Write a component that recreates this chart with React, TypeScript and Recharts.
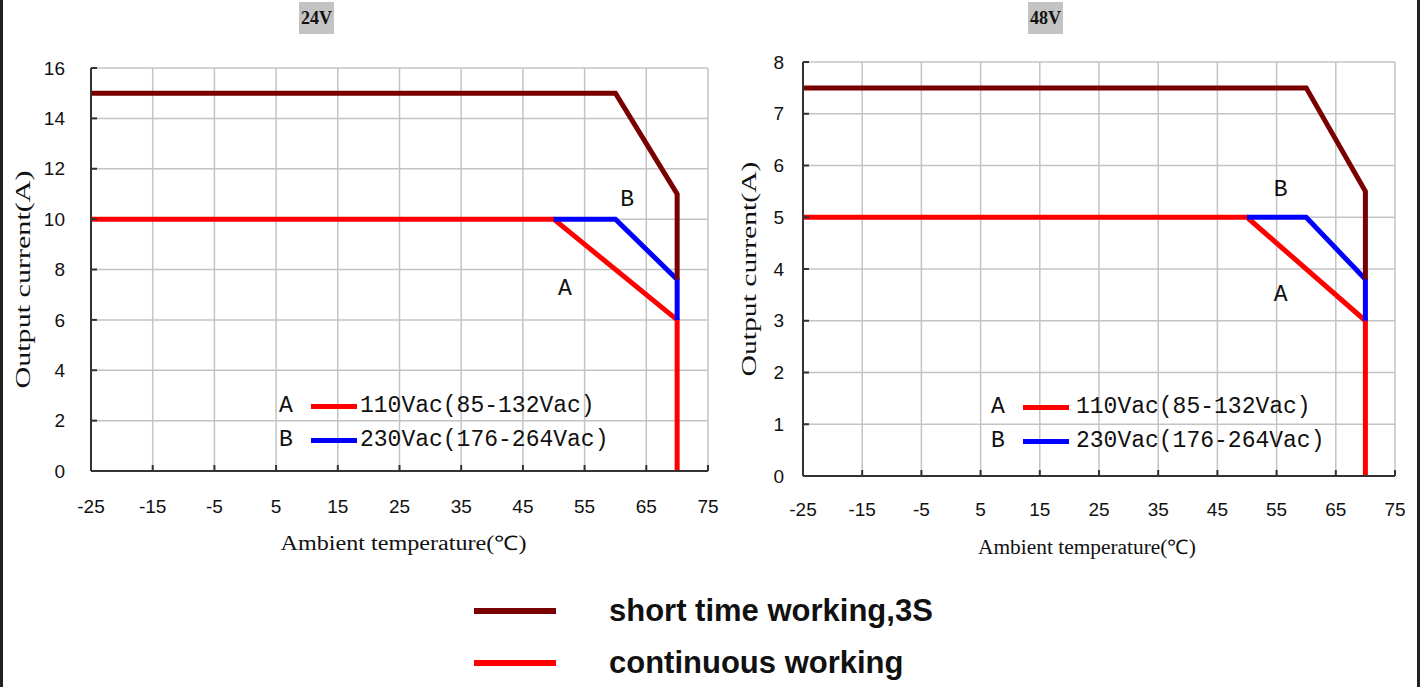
import { CartesianGrid, Legend, Line, LineChart, ReferenceDot, XAxis, YAxis } from "recharts";

// ambient temperature axis (°C)
const tempTicks = [-25, -15, -5, 5, 15, 25, 35, 45, 55, 65, 75];
const ticks24 = [0, 2, 4, 6, 8, 10, 12, 14, 16];
const ticks48 = [0, 1, 2, 3, 4, 5, 6, 7, 8];

// 24V derating curves: temperature / output current
const short24T = [-25, 60, 70, 70];
const short24I = [15, 15, 11, 7.6];
const a24T = [-25, 50, 70, 70];
const a24I = [10, 10, 6, 0];
const b24T = [50, 60, 70, 70];
const b24I = [10, 10, 7.6, 6];

// 48V derating curves
const short48T = [-25, 60, 70, 70];
const short48I = [7.5, 7.5, 5.5, 3.8];
const a48T = [-25, 50, 70, 70];
const a48I = [5, 5, 3, 0];
const b48T = [50, 60, 70, 70];
const b48I = [5, 5, 3.8, 3];

// curve tags "A" / "B" (temp, current)
const tag24 = { A: [51.8, 7.3], B: [61.9, 10.84] };
const tag48 = { A: [55.7, 3.54], B: [55.7, 5.57] };

const inputLetters = ["A", "B"];
const inputNames = ["110Vac(85-132Vac)", "230Vac(176-264Vac)"];
const modeNames = ["short time working,3S", "continuous working"];

const DARK = "#7a0000";
const RED = "#ff0000";
const BLUE = "#0000ff";
const inputColors = [RED, BLUE];
const modeColors = [DARK, RED];

const pts = (t: number[], i: number[]) => t.map((x, k) => ({ t: x, i: i[k] }));

function YTitle(props: any) {
  const { viewBox, back, dy, len } = props;
  const cx = viewBox.x + viewBox.width - back;
  const cy = viewBox.y + viewBox.height / 2 + dy;
  return (
    <text
      x={cx}
      y={cy}
      transform={`rotate(-90 ${cx} ${cy})`}
      textAnchor="middle"
      dominantBaseline="central"
      fontFamily="Liberation Serif"
      fontSize={22}
      fill="#111"
      textLength={len}
      lengthAdjust="spacingAndGlyphs"
    >
      Output current(A)
    </text>
  );
}

function XTitle(props: any) {
  const { viewBox, dx, down, len } = props;
  const cx = viewBox.x + viewBox.width / 2 + dx;
  const cy = viewBox.y + down;
  return (
    <text
      x={cx}
      y={cy}
      textAnchor="middle"
      dominantBaseline="central"
      fontFamily="Liberation Serif"
      fontSize={20}
      fill="#111"
      textLength={len}
      lengthAdjust="spacingAndGlyphs"
    >
      Ambient temperature(℃)
    </text>
  );
}

function InputLegend({ gap }: { gap: number }) {
  return (
    <div style={{ fontFamily: "Liberation Mono", fontSize: 23, color: "#111" }}>
      {inputLetters.map((l, k) => (
        <div key={l} style={{ display: "flex", alignItems: "center", height: 34 }}>
          <span style={{ width: 14 }}>{l}</span>
          <span
            style={{
              display: "inline-block",
              width: 46,
              height: 5,
              marginLeft: 18,
              marginRight: gap,
              background: inputColors[k],
            }}
          />
          <span>{inputNames[k]}</span>
        </div>
      ))}
    </div>
  );
}

type Cfg = {
  left: number;
  width: number;
  title: string;
  titleX: number;
  margin: { top: number; right: number; bottom: number; left: number };
  yMax: number;
  yTicks: number[];
  short: { t: number; i: number }[];
  a: { t: number; i: number }[];
  b: { t: number; i: number }[];
  tags: { A: number[]; B: number[] };
  yTickMargin: number;
  xTickMargin: number;
  yTitle: { back: number; dy: number; len: number };
  xTitle: { dx: number; down: number; len: number };
  legend: { left: number; top: number; gap: number };
};

const panels: Cfg[] = [
  {
    left: 0,
    width: 720,
    title: "24V",
    titleX: 299,
    margin: { top: 68, right: 12, bottom: 59, left: 41 },
    yMax: 16,
    yTicks: ticks24,
    short: pts(short24T, short24I),
    a: pts(a24T, a24I),
    b: pts(b24T, b24I),
    tags: tag24,
    yTickMargin: 32,
    xTickMargin: 35,
    yTitle: { back: 69, dy: 10, len: 218 },
    xTitle: { dx: 4, down: 72, len: 246 },
    legend: { left: 279, top: 389, gap: 3 },
  },
  {
    left: 720,
    width: 701,
    title: "48V",
    titleX: 1028,
    margin: { top: 62, right: 26, bottom: 54, left: 33 },
    yMax: 8,
    yTicks: ticks48,
    short: pts(short48T, short48I),
    a: pts(a48T, a48I),
    b: pts(b48T, b48I),
    tags: tag48,
    yTickMargin: 25,
    xTickMargin: 33,
    yTitle: { back: 55, dy: 0, len: 215 },
    xTitle: { dx: -12, down: 71, len: 218 },
    legend: { left: 271, top: 390, gap: 7 },
  },
];

function Panel({ cfg }: { cfg: Cfg }) {
  const tick = { fill: "#111", fontSize: 19, fontFamily: "Liberation Sans" };
  const axisLine = { stroke: "#333", strokeWidth: 2 };
  const tagLabel = (v: string) => ({
    value: v,
    position: "center" as const,
    fill: "#111",
    fontSize: 23,
    fontFamily: "Liberation Mono",
  });
  return (
    <div style={{ position: "absolute", left: cfg.left, top: 0 }}>
      <LineChart width={cfg.width} height={560} margin={cfg.margin}>
        <CartesianGrid stroke="#c4c4c4" strokeWidth={1.5} />
        <XAxis
          type="number"
          dataKey="t"
          domain={[-25, 75]}
          ticks={tempTicks}
          interval={0}
          allowDataOverflow
          height={30}
          tickSize={-6}
          tickMargin={cfg.xTickMargin}
          axisLine={axisLine}
          tickLine={axisLine}
          tick={tick}
          fontSize={19}
          fontFamily="Liberation Sans"
          label={<XTitle {...cfg.xTitle} />}
        />
        <YAxis
          type="number"
          domain={[0, cfg.yMax]}
          ticks={cfg.yTicks}
          interval={0}
          width={50}
          tickSize={-6}
          tickMargin={cfg.yTickMargin}
          axisLine={axisLine}
          tickLine={axisLine}
          tick={tick}
          fontSize={19}
          fontFamily="Liberation Sans"
          label={<YTitle {...cfg.yTitle} />}
        />
        <Line data={cfg.a} dataKey="i" type="linear" stroke={RED} strokeWidth={5} dot={false} activeDot={false} isAnimationActive={false} />
        <Line data={cfg.b} dataKey="i" type="linear" stroke={BLUE} strokeWidth={5} dot={false} activeDot={false} isAnimationActive={false} />
        <Line data={cfg.short} dataKey="i" type="linear" stroke={DARK} strokeWidth={5} dot={false} activeDot={false} isAnimationActive={false} />
        <ReferenceDot x={cfg.tags.B[0]} y={cfg.tags.B[1]} r={0} stroke="none" label={tagLabel("B")} />
        <ReferenceDot x={cfg.tags.A[0]} y={cfg.tags.A[1]} r={0} stroke="none" label={tagLabel("A")} />
        <Legend
          layout="vertical"
          align="center"
          verticalAlign="middle"
          wrapperStyle={{ left: cfg.legend.left, top: cfg.legend.top, width: "auto" }}
          content={() => <InputLegend gap={cfg.legend.gap} />}
        />
      </LineChart>
      <div
        style={{
          position: "absolute",
          left: cfg.titleX - cfg.left,
          top: 2,
          width: 35,
          height: 32,
          background: "#c3c3c3",
          fontFamily: "Liberation Serif",
          fontWeight: "bold",
          fontSize: 18,
          lineHeight: "32px",
          textAlign: "center",
          color: "#111",
        }}
      >
        {cfg.title}
      </div>
    </div>
  );
}

export default function App() {
  return (
    <div
      style={{
        position: "absolute",
        left: 0,
        top: 0,
        width: 1421,
        height: 687,
        background: "#fff",
        overflow: "hidden",
      }}
    >
      <div style={{ position: "absolute", left: 0, top: 0, width: 3, height: 687, background: "#222" }} />
      <div style={{ position: "absolute", left: 1417, top: 0, width: 3, height: 687, background: "#222" }} />
      {panels.map((p) => (
        <Panel key={p.title} cfg={p} />
      ))}
      <div style={{ position: "absolute", left: 474, top: 585 }}>
        {modeNames.map((m, k) => (
          <div key={m} style={{ display: "flex", alignItems: "center", height: 52 }}>
            <span style={{ display: "inline-block", width: 82, height: 6, background: modeColors[k] }} />
            <span
              style={{
                marginLeft: 53,
                fontFamily: "Liberation Sans",
                fontWeight: "bold",
                fontSize: 31,
                color: "#111",
              }}
            >
              {m}
            </span>
          </div>
        ))}
      </div>
    </div>
  );
}
